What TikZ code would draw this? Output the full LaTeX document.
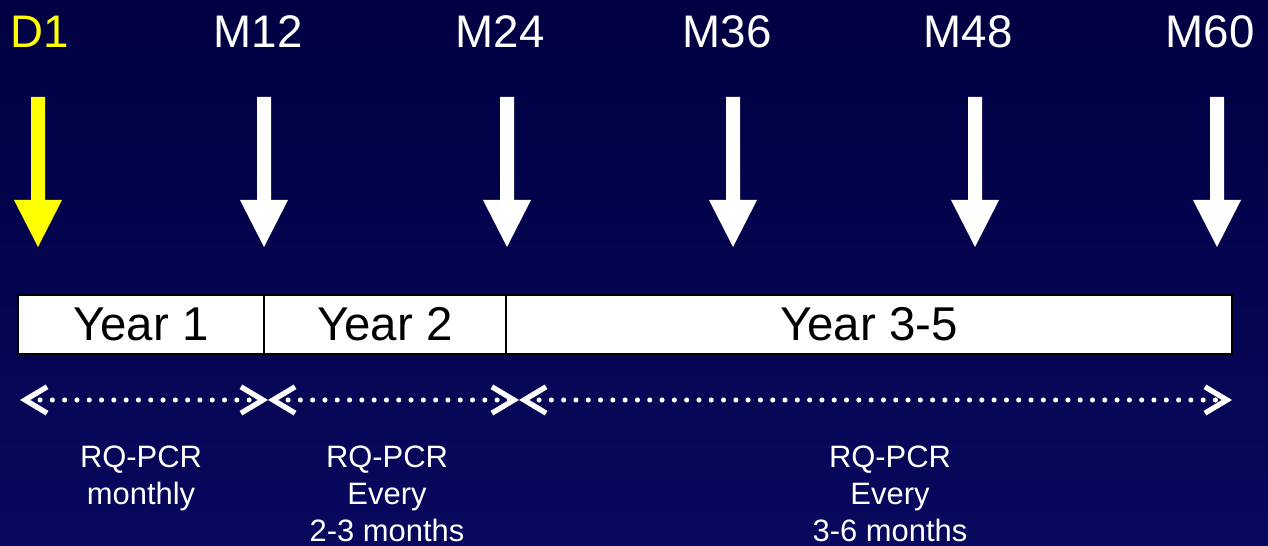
\documentclass[tikz,border=0pt]{standalone}
\usepackage{fontspec}
\setmainfont{Liberation Sans}
\usetikzlibrary{arrows.meta}

\definecolor{navytop}{RGB}{0,0,66}
\definecolor{navybot}{RGB}{8,8,94}
\definecolor{dayyellow}{RGB}{255,255,0}

\tikzset{
  milestone/.style={anchor=base, inner sep=0pt, text=white,
    font=\fontsize{26}{30}\selectfont},
  yearbox/.style={draw=black, line width=0.8pt, fill=white, inner sep=0pt,
    minimum height=1.18cm, font=\fontsize{27}{30}\selectfont},
  period/.style={white, line width=2.9pt, line cap=round,
    dash pattern=on 0pt off 7pt,
    {Straight Barb[length=12.5pt,width=15pt,line width=3pt]}-{Straight Barb[length=12.5pt,width=15pt,line width=3pt]}},
  note/.style={anchor=north, inner sep=0pt, align=center, text=white,
    font=\fontsize{17.6}{21}\selectfont}
}

\begin{document}
\begin{tikzpicture}[x=0.02cm, y=-0.02cm]
    \useasboundingbox (0,0) rectangle (1268,546);
    \shade[top color=navytop, bottom color=navybot] (0,0) rectangle (1268,546);

    % time points
    \node[milestone, text=dayyellow] (d1) at (40,48) {D1};
    \node[milestone] (m12) at (258,48) {M12};
    \node[milestone] (m24) at (500,48) {M24};
    \node[milestone] (m36) at (727,48) {M36};
    \node[milestone] (m48) at (968,48) {M48};
    \node[milestone] (m60) at (1210,48) {M60};

    % block arrows
    \foreach \c/\col in {38/dayyellow, 264/white, 507/white, 733/white, 975/white, 1217/white}
        \fill[\col] (\c-7,97) -- (\c+7,97) -- (\c+7,200) -- (\c+24,200)
            -- (\c,247) -- (\c-24,200) -- (\c-7,200) -- cycle;

    % years
    \node[yearbox, minimum width=4.92cm] (y1) at (141,324.5) {Year 1};
    \node[yearbox, minimum width=4.84cm] (y2) at (385,324.5) {Year 2};
    \node[yearbox, minimum width=14.52cm] (y35) at (869,324.5) {Year 3-5};

    % follow-up periods
    \coordinate (p0) at (20,400);
    \coordinate (p1) at (268,400);
    \coordinate (p2) at (519,400);
    \coordinate (p3) at (1232,400);
    \draw[period] (p0) -- (p1);
    \draw[period] (p1) -- (p2);
    \draw[period] (p2) -- (p3);

    \node[note] (n1) at (141,446) {RQ-PCR\\monthly};
    \node[note] (n2) at (387,446) {RQ-PCR\\Every\\2-3 months};
    \node[note] (n3) at (890,446) {RQ-PCR\\Every\\3-6 months};
\end{tikzpicture}
\end{document}
